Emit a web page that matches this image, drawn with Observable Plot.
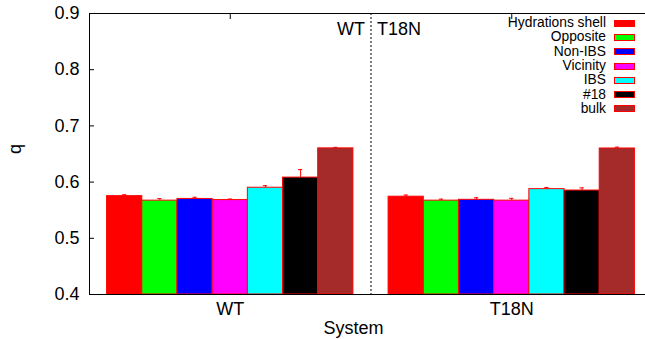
<!DOCTYPE html>
<html><head><meta charset="utf-8">
<script src="https://cdn.jsdelivr.net/npm/d3@7"></script>
<script src="https://cdn.jsdelivr.net/npm/@observablehq/plot@0.6"></script>
<style>
html,body{margin:0;padding:0;overflow:hidden;background:#fff;}
#wrap{position:relative;width:645px;height:339px;font-family:"Liberation Sans",Arial,sans-serif;}
#legend{position:absolute;top:16px;right:10px;}
#legend .row{display:flex;justify-content:flex-end;align-items:center;height:14.3px;}
#legend .lab{display:block;font-size:13.8px;line-height:14px;height:14px;color:#000;white-space:nowrap;}
#legend .sw{display:block;width:21px;height:7px;margin-left:8px;box-sizing:border-box;border:1px solid #f00;}
</style></head><body><div id="wrap"></div>
<script>
const systems = ["WT", "T18N"];
const series = ["Hydrations shell", "Opposite", "Non-IBS", "Vicinity", "IBS", "#18", "bulk"];
const colors = ["#ff0000", "#00ff00", "#0000ff", "#ff00ff", "#00ffff", "#000000", "#a52a2a"];
const wtValues = [0.575, 0.567, 0.570, 0.568, 0.590, 0.608, 0.660];
const wtErrors = [0.0025, 0.0036, 0.0030, 0.0018, 0.0036, 0.0142, 0.0018];
const t18nValues = [0.574, 0.567, 0.5685, 0.567, 0.5875, 0.585, 0.6598];
const t18nErrors = [0.0030, 0.0027, 0.0036, 0.0041, 0.0030, 0.0047, 0.0024];
const yTicks = [0.4, 0.5, 0.6, 0.7, 0.8, 0.9];
const xLabel = "System";
const yLabel = "q";

const valuesBySystem = [wtValues, t18nValues];
const errorsBySystem = [wtErrors, t18nErrors];
const n = series.length;
const barW = 1 / (n + 1);
const table = [];
systems.forEach((s, si) => {
  series.forEach((name, k) => {
    const x1 = si + (k - n / 2) * barW;
    table.push({
      system: s, series: name, value: valuesBySystem[si][k], err: errorsBySystem[si][k],
      x1, x2: x1 + barW, cx: x1 + barW / 2
    });
  });
});
const yMin = yTicks[0], yMax = yTicks[yTicks.length - 1];
const divider = (0 + systems.length - 1) / 2;
const capHalf = barW * 0.06;

const chart = Plot.plot({
  width: 645, height: 339,
  marginLeft: 89, marginRight: 0, marginTop: 13, marginBottom: 45,
  style: {fontFamily: "Liberation Sans, Arial, sans-serif", fontSize: "18px", background: "#fff", color: "#000"},
  x: {domain: [-0.5, systems.length - 0.5], range: [89, 652]},
  y: {domain: [yMin, yMax]},
  color: {domain: series, range: colors},
  marks: [
    Plot.ruleX(table, {x: "cx", y1: "value", y2: d => d.value + d.err, stroke: "#f00", strokeWidth: 1}),
    Plot.ruleY(table, {y: d => d.value + d.err, x1: d => d.cx - capHalf, x2: d => d.cx + capHalf, stroke: "#f00", strokeWidth: 1}),
    Plot.rectY(table, {x1: "x1", x2: "x2", y1: yMin, y2: "value", fill: "series", stroke: "#f00", strokeWidth: 1}),
    Plot.ruleX([divider], {stroke: "#000", strokeWidth: 1, strokeDasharray: "2,2"}),
    Plot.ruleX([-0.5], {stroke: "#000", strokeWidth: 1}),
    Plot.ruleY([yMin, yMax], {stroke: "#000", strokeWidth: 1}),
    Plot.axisY({ticks: yTicks, tickFormat: d3.format(".1f"), tickSize: -5, tickPadding: 15, label: null, fontSize: 18}),
    Plot.axisX({ticks: systems.map((_, i) => i), tickFormat: i => systems[i], tickSize: 0, tickPadding: 8, label: null, fontSize: 18}),
    Plot.axisX({anchor: "top", ticks: systems.map((_, i) => i), tickFormat: () => "", tickSize: -5, label: null}),
    Plot.text([systems[0]], {x: divider, frameAnchor: "top", lineAnchor: "top", dy: 9, dx: -6, textAnchor: "end", fontSize: 18}),
    Plot.text([systems[1]], {x: divider, frameAnchor: "top", lineAnchor: "top", dy: 9, dx: 6, textAnchor: "start", fontSize: 18}),
    Plot.text([yLabel], {frameAnchor: "left", dx: -74, rotate: -90, fontSize: 18}),
    Plot.text([xLabel], {frameAnchor: "bottom", lineAnchor: "top", dy: 27, dx: -14, fontSize: 18})
  ]
});
const wrap = document.getElementById("wrap");
wrap.appendChild(chart);
const legend = document.createElement("div");
legend.id = "legend";
series.forEach((name, k) => {
  const row = document.createElement("div");
  row.className = "row";
  const lab = document.createElement("span");
  lab.className = "lab";
  lab.textContent = name;
  const sw = document.createElement("span");
  sw.className = "sw";
  sw.style.background = colors[k];
  row.appendChild(lab);
  row.appendChild(sw);
  legend.appendChild(row);
});
wrap.appendChild(legend);
</script></body></html>
